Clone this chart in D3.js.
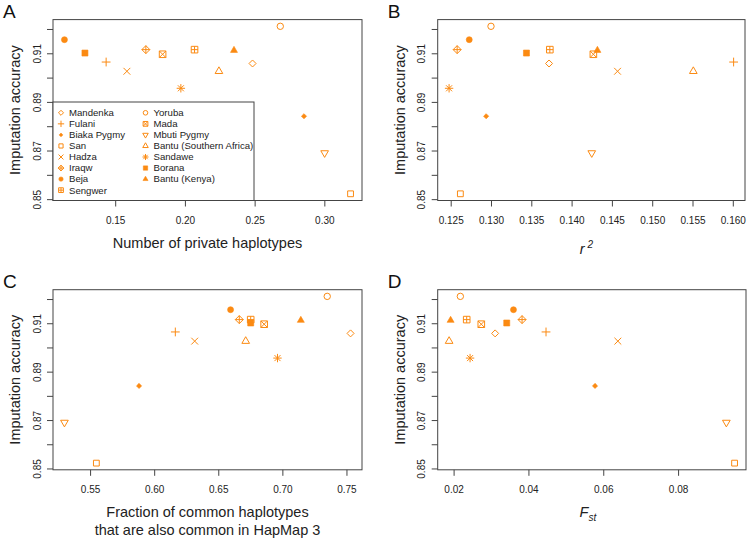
<!DOCTYPE html>
<html>
<head>
<meta charset="utf-8">
<script src="https://cdn.jsdelivr.net/npm/d3@7"></script>
<style>
  body { margin: 0; background: #fff; }
  svg { font-family: "Liberation Sans", Arial, sans-serif; }
  .tick line { stroke: #444; }
  .tick text { fill: #222; font-size: 10px; }
</style>
</head>
<body>
<div id="chart"></div>
<script>
// populations, in legend order
var populations = ["Mandenka", "Fulani", "Biaka Pygmy", "San", "Hadza", "Iraqw", "Beja", "Sengwer",
                   "Yoruba", "Mada", "Mbuti Pygmy", "Bantu (Southern Africa)", "Sandawe", "Borana", "Bantu (Kenya)"];
var symbols = ["diamond", "plus", "diamondFilled", "square", "cross", "diamondPlus", "circleFilled", "squarePlus",
               "circle", "squareCross", "triangleDown", "triangle", "asterisk", "squareFilled", "triangleFilled"];

var accuracy   = [0.9058, 0.9064, 0.8841, 0.8522, 0.9026, 0.9115, 0.9156, 0.9115,
                  0.9211, 0.9096, 0.8690, 0.9026, 0.8956, 0.9101, 0.9112];
var privateHap = [0.2485, 0.1435, 0.2854, 0.3188, 0.1584, 0.1720, 0.1136, 0.2069,
                  0.2684, 0.1840, 0.3002, 0.2244, 0.1971, 0.1283, 0.2352];
var rsq        = [0.1372, 0.1601, 0.1294, 0.1262, 0.1457, 0.1258, 0.1273, 0.1373,
                  0.1300, 0.1427, 0.1425, 0.1551, 0.1248, 0.1344, 0.1432];
var fracCommon = [0.7532, 0.6165, 0.5882, 0.5549, 0.6316, 0.6664, 0.6596, 0.6753,
                  0.7350, 0.6858, 0.5300, 0.6714, 0.6962, 0.6753, 0.7144];
var fst        = [0.0311, 0.0447, 0.0578, 0.0951, 0.0639, 0.0383, 0.0360, 0.0235,
                  0.0218, 0.0274, 0.0929, 0.0188, 0.0244, 0.0342, 0.0192];

var yTicks = [0.85, 0.86, 0.87, 0.88, 0.89, 0.90, 0.91, 0.92];
var yTickLabels = [0.85, 0.87, 0.89, 0.91];
var xTicksA = [0.15, 0.20, 0.25, 0.30];
var xTicksB = [0.125, 0.130, 0.135, 0.140, 0.145, 0.150, 0.155, 0.160];
var xTicksC = [0.55, 0.60, 0.65, 0.70, 0.75];
var xTicksD = [0.02, 0.04, 0.06, 0.08];

var COLOR = "#fb8a12";
var LINE = "#444";

var svg = d3.select("#chart").append("svg").attr("width", 750).attr("height", 538);

// R style axis range: data extent plus 4% each side
function pad(vals) {
  var e = d3.extent(vals), d = (e[1] - e[0]) * 0.04;
  return [e[0] - d, e[1] + d];
}

function symPath(type, k) {
  k = k || 1;
  var p = "";
  function sq(h) { return "M" + (-h) + "," + (-h) + "H" + h + "V" + h + "H" + (-h) + "Z"; }
  function dia(h) { return "M0," + (-h) + "L" + h + ",0L0," + h + "L" + (-h) + ",0Z"; }
  function plus(h) { return "M" + (-h) + ",0H" + h + "M0," + (-h) + "V" + h; }
  function cross(h) { return "M" + (-h) + "," + (-h) + "L" + h + "," + h + "M" + (-h) + "," + h + "L" + h + "," + (-h); }
  function circ(r) { return "M" + (-r) + ",0A" + r + "," + r + " 0 1,0 " + r + ",0A" + r + "," + r + " 0 1,0 " + (-r) + ",0Z"; }
  function tri(s, down) {
    var top = 1.555 * s, w = 1.347 * s, b = 0.778 * s, f = down ? -1 : 1;
    return "M0," + (-top * f) + "L" + w + "," + (b * f) + "L" + (-w) + "," + (b * f) + "Z";
  }
  switch (type) {
    case "circle": p = circ(3.2 * k); break;
    case "circleFilled": p = circ(3.0 * k); break;
    case "square": p = sq(2.9 * k); break;
    case "squareFilled": p = sq(3.0 * k); break;
    case "squarePlus": p = sq(3.3 * k) + plus(3.3 * k); break;
    case "squareCross": p = sq(3.3 * k) + cross(3.3 * k); break;
    case "diamond": p = dia(3.5 * k); break;
    case "diamondFilled": p = dia(2.6 * k); break;
    case "diamondPlus": p = dia(4.0 * k) + plus(4.0 * k); break;
    case "plus": p = plus(4.4 * k); break;
    case "cross": p = cross(3.4 * k); break;
    case "asterisk": p = plus(4.2 * k) + cross(3.0 * k); break;
    case "triangle": p = tri(2.85 * k, false); break;
    case "triangleFilled": p = tri(2.6 * k, false); break;
    case "triangleDown": p = tri(2.85 * k, true); break;
  }
  return p;
}

function isFilled(type) { return type.indexOf("Filled") >= 0; }

function drawSymbol(g, type, x, y, k) {
  g.append("path")
    .attr("transform", "translate(" + x + "," + y + ")")
    .attr("d", symPath(type, k))
    .attr("fill", isFilled(type) ? COLOR : "none")
    .attr("stroke", COLOR)
    .attr("stroke-width", isFilled(type) ? 0.6 : 1);
}

var panels = [
  { letter: "A", xVals: privateHap, xTicks: xTicksA, fmt: ".2f", left: 53, right: 362, top: 19.6, bottom: 200.5 },
  { letter: "B", xVals: rsq, xTicks: xTicksB, fmt: ".3f", left: 437.7, right: 745, top: 19.6, bottom: 200.5 },
  { letter: "C", xVals: fracCommon, xTicks: xTicksC, fmt: ".2f", left: 53, right: 362, top: 289.7, bottom: 469.8 },
  { letter: "D", xVals: fst, xTicks: xTicksD, fmt: ".2f", left: 437.7, right: 746, top: 289.7, bottom: 469.8 }
];

panels.forEach(function(p) {
  var x = d3.scaleLinear().domain(pad(p.xVals)).range([p.left, p.right]);
  var y = d3.scaleLinear().domain(pad(accuracy)).range([p.bottom, p.top]);
  var g = svg.append("g").attr("class", "panel");

  // x axis
  var gx = g.append("g")
    .attr("transform", "translate(0," + p.bottom + ")")
    .call(d3.axisBottom(x).tickValues(p.xTicks).tickSize(6).tickPadding(10)
      .tickSizeOuter(0).tickFormat(d3.format(p.fmt)));
  gx.select(".domain").remove();

  // y axis, labels parallel to the axis
  var gy = g.append("g")
    .attr("transform", "translate(" + p.left + ",0)")
    .call(d3.axisLeft(y).tickValues(yTicks).tickSize(6).tickSizeOuter(0)
      .tickFormat(function(d) {
        return yTickLabels.some(function(v) { return Math.abs(v - d) < 1e-9; }) ? d3.format(".2f")(d) : "";
      }));
  gy.select(".domain").remove();
  gy.selectAll("text")
    .attr("x", 0).attr("y", -12.5).attr("dy", null)
    .attr("transform", "rotate(-90)")
    .style("text-anchor", "middle");

  // box
  g.append("rect")
    .attr("x", p.left).attr("y", p.top)
    .attr("width", p.right - p.left).attr("height", p.bottom - p.top)
    .attr("fill", "none").attr("stroke", LINE).attr("stroke-width", 1);

  // y title
  g.append("text")
    .attr("transform", "translate(" + (p.left - 38) + "," + ((p.top + p.bottom) / 2) + ") rotate(-90)")
    .attr("dy", "0.36em")
    .style("text-anchor", "middle").style("font-size", "14.5px").attr("fill", "#222")
    .text("Imputation accuracy");

  // panel letter
  g.append("text")
    .attr("x", p.left - 50).attr("y", p.top - 1.5)
    .style("font-size", "19px").attr("fill", "#111")
    .text(p.letter);

  p.x = x; p.y = y; p.g = g;
});

// x titles
var cx = function(p) { return (p.left + p.right) / 2; };
panels[0].g.append("text").attr("x", cx(panels[0])).attr("y", 248)
  .style("text-anchor", "middle").style("font-size", "14.5px").attr("fill", "#222")
  .text("Number of private haplotypes");

var tB = panels[1].g.append("text").attr("x", cx(panels[1]) - 5).attr("y", 254)
  .style("text-anchor", "middle").style("font-size", "14.5px").attr("fill", "#222");
tB.append("tspan").style("font-style", "italic").text("r");
tB.append("tspan").attr("dx", 3).attr("dy", -6).style("font-size", "10px").style("font-style", "italic").text("2");

panels[2].g.append("text").attr("x", cx(panels[2])).attr("y", 517)
  .style("text-anchor", "middle").style("font-size", "14.5px").attr("fill", "#222")
  .text("Fraction of common haplotypes");
panels[2].g.append("text").attr("x", cx(panels[2])).attr("y", 535)
  .style("text-anchor", "middle").style("font-size", "14.5px").attr("fill", "#222")
  .text("that are also common in HapMap 3");

var tD = panels[3].g.append("text").attr("x", cx(panels[3]) - 4).attr("y", 517)
  .style("text-anchor", "middle").style("font-size", "14.5px").attr("fill", "#222");
tD.append("tspan").style("font-style", "italic").text("F");
tD.append("tspan").attr("dy", 4).style("font-size", "10px").style("font-style", "italic").text("st");

// legend in panel A, bottom left corner
var pa = panels[0];
var leg = pa.g.append("g");
leg.append("rect")
  .attr("x", pa.left).attr("y", 102)
  .attr("width", 201).attr("height", pa.bottom - 102)
  .attr("fill", "#fff").attr("stroke", LINE).attr("stroke-width", 1);

// points
panels.forEach(function(p) {
  populations.forEach(function(name, i) {
    drawSymbol(p.g, symbols[i], p.x(p.xVals[i]), p.y(accuracy[i]), 1);
  });
});

populations.forEach(function(name, i) {
  var col = i < 8 ? 0 : 1, row = i < 8 ? i : i - 8;
  var sx = col === 0 ? 61 : 145.5;
  var ly = 112.8 + row * 11.05;
  drawSymbol(leg, symbols[i], sx, ly, 0.72);
  leg.append("text")
    .attr("x", sx + 8).attr("y", ly).attr("dy", "0.35em")
    .style("font-size", "9.6px").attr("fill", "#222")
    .text(name);
});
</script>
</body>
</html>
